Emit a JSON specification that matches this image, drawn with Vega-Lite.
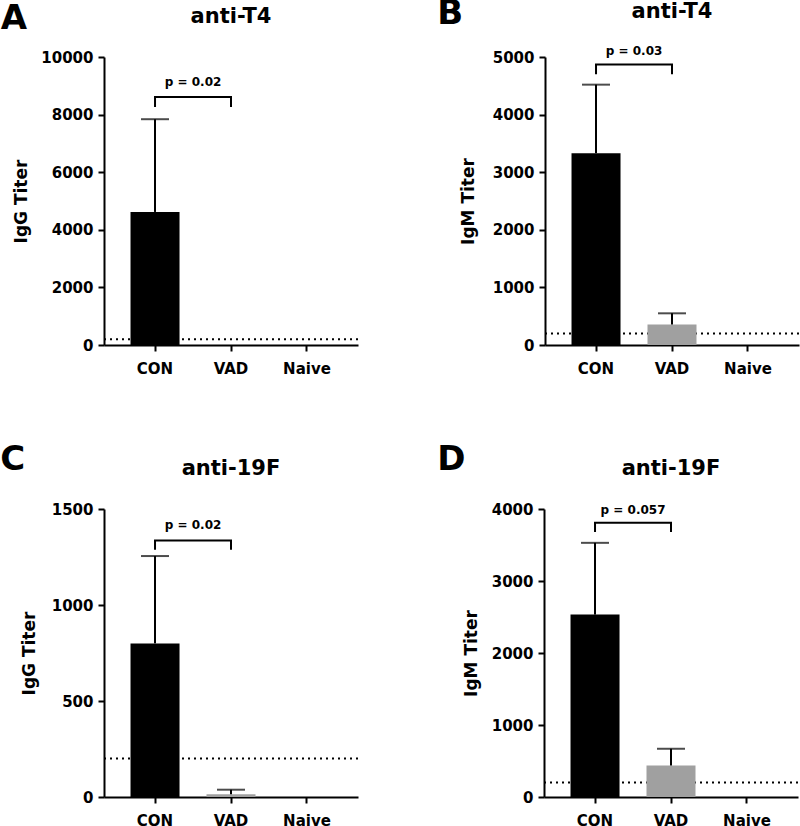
{
  "$schema": "https://vega.github.io/schema/vega-lite/v6.json",
  "padding": {"left": 0, "top": -3, "right": 0, "bottom": 0},
  "config": {
    "view": {"stroke": null},
    "font": "DejaVu Sans",
    "axis": {"domainColor": "black", "domainWidth": 2, "tickColor": "black", "tickWidth": 2, "tickSize": 6, "labelFont": "DejaVu Sans", "labelFontWeight": "bold", "labelFontSize": 15, "labelColor": "black", "titleFont": "DejaVu Sans", "titleFontWeight": "bold", "titleFontSize": 17, "titleColor": "black", "grid": false},
    "axisX": {"labelAngle": 0, "labelPadding": 10},
    "axisY": {"labelPadding": 5, "format": "d"},
    "title": {"font": "DejaVu Sans", "fontWeight": "bold", "fontSize": 21, "color": "black", "offset": 23}
  },
  "datasets": {
    "A": [{"group": "CON", "mean": 4620, "upper": 7840}, {"group": "VAD", "mean": 0, "upper": null}, {"group": "Naive", "mean": 0, "upper": null}],
    "Abr": [{"group": "CON", "y": 8260, "o": 1}, {"group": "CON", "y": 8610, "o": 2}, {"group": "VAD", "y": 8610, "o": 3}, {"group": "VAD", "y": 8260, "o": 4}],
    "B": [{"group": "CON", "mean": 3330, "upper": 4520}, {"group": "VAD", "mean": 355, "upper": 550}, {"group": "Naive", "mean": 0, "upper": null}],
    "Bbr": [{"group": "CON", "y": 4700, "o": 1}, {"group": "CON", "y": 4870, "o": 2}, {"group": "VAD", "y": 4870, "o": 3}, {"group": "VAD", "y": 4700, "o": 4}],
    "C": [{"group": "CON", "mean": 800, "upper": 1255}, {"group": "VAD", "mean": 14, "upper": 38}, {"group": "Naive", "mean": 0, "upper": null}],
    "Cbr": [{"group": "CON", "y": 1288, "o": 1}, {"group": "CON", "y": 1336, "o": 2}, {"group": "VAD", "y": 1336, "o": 3}, {"group": "VAD", "y": 1288, "o": 4}],
    "D": [{"group": "CON", "mean": 2533, "upper": 3530}, {"group": "VAD", "mean": 438, "upper": 670}, {"group": "Naive", "mean": 0, "upper": null}],
    "Dbr": [{"group": "CON", "y": 3681, "o": 1}, {"group": "CON", "y": 3810, "o": 2}, {"group": "VAD", "y": 3810, "o": 3}, {"group": "VAD", "y": 3681, "o": 4}]
  },
  "vconcat": [
    {
      "hconcat": [
        {
          "title": {"text": "A", "anchor": "start", "frame": "bounds", "fontSize": 34, "offset": -30, "dx": -12},
          "vconcat": [
            {
              "width": 254, "height": 288,
              "title": "anti-T4",
              "layer": [
                {"data": {"values": [{"thr": 200}]}, "mark": {"type": "rule", "strokeDash": [2, 4], "strokeWidth": 2, "color": "black"}, "encoding": {"y": {"field": "thr", "type": "quantitative", "scale": {"domain": [0, 10000], "nice": false}, "axis": {"title": "IgG Titer", "titlePadding": 10, "values": [0, 2000, 4000, 6000, 8000, 10000]}}}},
                {"data": {"name": "A"}, "mark": {"type": "bar"}, "encoding": {
                  "x": {"field": "group", "type": "nominal", "sort": ["CON", "VAD", "Naive"], "scale": {"domain": ["CON", "VAD", "Naive"], "paddingInner": 0.355, "paddingOuter": 0.349}, "axis": {"title": null}},
                  "y": {"field": "mean", "type": "quantitative"},
                  "color": {"field": "group", "type": "nominal", "scale": {"domain": ["CON", "VAD", "Naive"], "range": ["#000000", "#a0a0a0", "#a0a0a0"]}, "legend": null}}},
                {"data": {"name": "A"}, "transform": [{"filter": "datum.upper != null"}], "mark": {"type": "rule", "strokeWidth": 2, "color": "black"}, "encoding": {"x": {"field": "group", "type": "nominal"}, "y": {"field": "mean", "type": "quantitative"}, "y2": {"field": "upper"}}},
                {"data": {"name": "A"}, "transform": [{"filter": "datum.upper != null"}], "mark": {"type": "tick", "thickness": 2, "size": 28, "color": "black", "orient": "horizontal"}, "encoding": {"x": {"field": "group", "type": "nominal"}, "y": {"field": "upper", "type": "quantitative"}}},
                {"data": {"name": "Abr"}, "mark": {"type": "line", "strokeWidth": 2, "color": "black"}, "encoding": {"x": {"field": "group", "type": "nominal"}, "y": {"field": "y", "type": "quantitative"}, "order": {"field": "o"}}},
                {"data": {"values": [{"group": "CON", "y": 9000, "label": "p = 0.02"}]}, "mark": {"type": "text", "dx": 38, "fontSize": 12, "fontWeight": "bold", "baseline": "alphabetic", "color": "black"}, "encoding": {"x": {"field": "group", "type": "nominal"}, "y": {"field": "y", "type": "quantitative"}, "text": {"field": "label"}}}
              ]
            }
          ]
        },
        {
          "title": {"text": "B", "anchor": "start", "frame": "bounds", "fontSize": 34, "offset": -30, "dx": -22},
          "vconcat": [
            {
              "width": 254, "height": 288,
              "title": "anti-T4",
              "layer": [
                {"data": {"values": [{"thr": 200}]}, "mark": {"type": "rule", "strokeDash": [2, 4], "strokeWidth": 2, "color": "black"}, "encoding": {"y": {"field": "thr", "type": "quantitative", "scale": {"domain": [0, 5000], "nice": false}, "axis": {"title": "IgM Titer", "titlePadding": 15, "values": [0, 1000, 2000, 3000, 4000, 5000]}}}},
                {"data": {"name": "B"}, "mark": {"type": "bar"}, "encoding": {
                  "x": {"field": "group", "type": "nominal", "sort": ["CON", "VAD", "Naive"], "scale": {"domain": ["CON", "VAD", "Naive"], "paddingInner": 0.355, "paddingOuter": 0.349}, "axis": {"title": null}},
                  "y": {"field": "mean", "type": "quantitative"},
                  "color": {"field": "group", "type": "nominal", "scale": {"domain": ["CON", "VAD", "Naive"], "range": ["#000000", "#a0a0a0", "#a0a0a0"]}, "legend": null}}},
                {"data": {"name": "B"}, "transform": [{"filter": "datum.upper != null"}], "mark": {"type": "rule", "strokeWidth": 2, "color": "black"}, "encoding": {"x": {"field": "group", "type": "nominal"}, "y": {"field": "mean", "type": "quantitative"}, "y2": {"field": "upper"}}},
                {"data": {"name": "B"}, "transform": [{"filter": "datum.upper != null"}], "mark": {"type": "tick", "thickness": 2, "size": 28, "color": "black", "orient": "horizontal"}, "encoding": {"x": {"field": "group", "type": "nominal"}, "y": {"field": "upper", "type": "quantitative"}}},
                {"data": {"name": "Bbr"}, "mark": {"type": "line", "strokeWidth": 2, "color": "black"}, "encoding": {"x": {"field": "group", "type": "nominal"}, "y": {"field": "y", "type": "quantitative"}, "order": {"field": "o"}}},
                {"data": {"values": [{"group": "CON", "y": 5030, "label": "p = 0.03"}]}, "mark": {"type": "text", "dx": 38, "fontSize": 12, "fontWeight": "bold", "baseline": "alphabetic", "color": "black"}, "encoding": {"x": {"field": "group", "type": "nominal"}, "y": {"field": "y", "type": "quantitative"}, "text": {"field": "label"}}}
              ]
            }
          ]
        }
      ],
      "spacing": 78
    },
    {
      "hconcat": [
        {
          "title": {"text": "C", "anchor": "start", "frame": "bounds", "fontSize": 34, "offset": -19, "dx": -20},
          "vconcat": [
            {
              "width": 254, "height": 288,
              "title": "anti-19F",
              "layer": [
                {"data": {"values": [{"thr": 200}]}, "mark": {"type": "rule", "strokeDash": [2, 4], "strokeWidth": 2, "color": "black"}, "encoding": {"y": {"field": "thr", "type": "quantitative", "scale": {"domain": [0, 1500], "nice": false}, "axis": {"title": "IgG Titer", "titlePadding": 13, "values": [0, 500, 1000, 1500]}}}},
                {"data": {"name": "C"}, "mark": {"type": "bar"}, "encoding": {
                  "x": {"field": "group", "type": "nominal", "sort": ["CON", "VAD", "Naive"], "scale": {"domain": ["CON", "VAD", "Naive"], "paddingInner": 0.355, "paddingOuter": 0.349}, "axis": {"title": null}},
                  "y": {"field": "mean", "type": "quantitative"},
                  "color": {"field": "group", "type": "nominal", "scale": {"domain": ["CON", "VAD", "Naive"], "range": ["#000000", "#a0a0a0", "#a0a0a0"]}, "legend": null}}},
                {"data": {"name": "C"}, "transform": [{"filter": "datum.upper != null"}], "mark": {"type": "rule", "strokeWidth": 2, "color": "black"}, "encoding": {"x": {"field": "group", "type": "nominal"}, "y": {"field": "mean", "type": "quantitative"}, "y2": {"field": "upper"}}},
                {"data": {"name": "C"}, "transform": [{"filter": "datum.upper != null"}], "mark": {"type": "tick", "thickness": 2, "size": 28, "color": "black", "orient": "horizontal"}, "encoding": {"x": {"field": "group", "type": "nominal"}, "y": {"field": "upper", "type": "quantitative"}}},
                {"data": {"name": "Cbr"}, "mark": {"type": "line", "strokeWidth": 2, "color": "black"}, "encoding": {"x": {"field": "group", "type": "nominal"}, "y": {"field": "y", "type": "quantitative"}, "order": {"field": "o"}}},
                {"data": {"values": [{"group": "CON", "y": 1396, "label": "p = 0.02"}]}, "mark": {"type": "text", "dx": 38, "fontSize": 12, "fontWeight": "bold", "baseline": "alphabetic", "color": "black"}, "encoding": {"x": {"field": "group", "type": "nominal"}, "y": {"field": "y", "type": "quantitative"}, "text": {"field": "label"}}}
              ]
            }
          ]
        },
        {
          "title": {"text": "D", "anchor": "start", "frame": "bounds", "fontSize": 34, "offset": -19, "dx": -25},
          "vconcat": [
            {
              "width": 254, "height": 288,
              "title": "anti-19F",
              "layer": [
                {"data": {"values": [{"thr": 200}]}, "mark": {"type": "rule", "strokeDash": [2, 4], "strokeWidth": 2, "color": "black"}, "encoding": {"y": {"field": "thr", "type": "quantitative", "scale": {"domain": [0, 4000], "nice": false}, "axis": {"title": "IgM Titer", "titlePadding": 11, "values": [0, 1000, 2000, 3000, 4000]}}}},
                {"data": {"name": "D"}, "mark": {"type": "bar"}, "encoding": {
                  "x": {"field": "group", "type": "nominal", "sort": ["CON", "VAD", "Naive"], "scale": {"domain": ["CON", "VAD", "Naive"], "paddingInner": 0.355, "paddingOuter": 0.349}, "axis": {"title": null}},
                  "y": {"field": "mean", "type": "quantitative"},
                  "color": {"field": "group", "type": "nominal", "scale": {"domain": ["CON", "VAD", "Naive"], "range": ["#000000", "#a0a0a0", "#a0a0a0"]}, "legend": null}}},
                {"data": {"name": "D"}, "transform": [{"filter": "datum.upper != null"}], "mark": {"type": "rule", "strokeWidth": 2, "color": "black"}, "encoding": {"x": {"field": "group", "type": "nominal"}, "y": {"field": "mean", "type": "quantitative"}, "y2": {"field": "upper"}}},
                {"data": {"name": "D"}, "transform": [{"filter": "datum.upper != null"}], "mark": {"type": "tick", "thickness": 2, "size": 28, "color": "black", "orient": "horizontal"}, "encoding": {"x": {"field": "group", "type": "nominal"}, "y": {"field": "upper", "type": "quantitative"}}},
                {"data": {"name": "Dbr"}, "mark": {"type": "line", "strokeWidth": 2, "color": "black"}, "encoding": {"x": {"field": "group", "type": "nominal"}, "y": {"field": "y", "type": "quantitative"}, "order": {"field": "o"}}},
                {"data": {"values": [{"group": "CON", "y": 3930, "label": "p = 0.057"}]}, "mark": {"type": "text", "dx": 38, "fontSize": 12, "fontWeight": "bold", "baseline": "alphabetic", "color": "black"}, "encoding": {"x": {"field": "group", "type": "nominal"}, "y": {"field": "y", "type": "quantitative"}, "text": {"field": "label"}}}
              ]
            }
          ]
        }
      ],
      "spacing": 78
    }
  ],
  "spacing": 67
}
